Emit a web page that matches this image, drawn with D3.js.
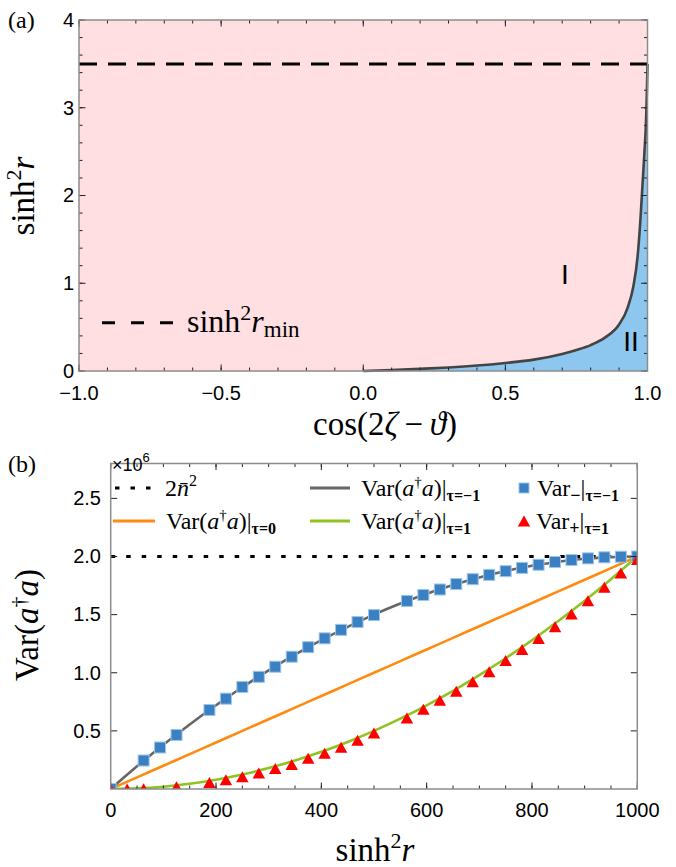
<!DOCTYPE html>
<html>
<head>
<meta charset="utf-8">
<script src="https://cdn.jsdelivr.net/npm/d3@7"></script>
<style>
  body { margin: 0; background: #fff; }
  svg { display: block; }
</style>
</head>
<body>
<div id="chart"></div>
<script>
// ---- panel (a): boundary between region I and II ----
const boundaryC = [0, 0.1, 0.2, 0.3, 0.4, 0.5, 0.6, 0.7, 0.75, 0.8, 0.85, 0.9, 0.93, 0.95, 0.965, 0.975, 0.982, 0.989, 0.995, 0.998, 1.0];
const boundaryV = [0, 0.01, 0.024, 0.04, 0.062, 0.092, 0.13, 0.195, 0.24, 0.295, 0.38, 0.53, 0.72, 0.96, 1.3, 1.72, 2.1, 2.48, 2.86, 3.2, 3.5];
const rMin = 3.5;
const xTicksA = [-1, -0.5, 0, 0.5, 1];
const yTicksA = [0, 1, 2, 3, 4];

// ---- panel (b): variances in units of 10^6 ----
const lineX   = [0, 50, 100, 150, 200, 250, 300, 350, 400, 450, 500, 550, 600, 650, 700, 750, 800, 850, 900, 950, 1000];
const varTauM = [0, 0.195, 0.38, 0.555, 0.72, 0.875, 1.02, 1.155, 1.28, 1.395, 1.5, 1.595, 1.68, 1.755, 1.82, 1.875, 1.92, 1.955, 1.98, 1.995, 2.0];
const varTau0 = [0, 0.1, 0.2, 0.3, 0.4, 0.5, 0.6, 0.7, 0.8, 0.9, 1.0, 1.1, 1.2, 1.3, 1.4, 1.5, 1.6, 1.7, 1.8, 1.9, 2.0];
const varTauP = [0, 0.005, 0.02, 0.045, 0.08, 0.125, 0.18, 0.245, 0.32, 0.405, 0.5, 0.605, 0.72, 0.845, 0.98, 1.125, 1.28, 1.445, 1.62, 1.805, 2.0];

const sqX = [0, 62.5, 93.75, 125, 187.5, 218.75, 250, 281.25, 312.5, 343.75, 375, 406.25, 437.5, 468.75, 500,
             562.5, 593.75, 625, 656.25, 687.5, 718.75, 750, 781.25, 812.5, 843.75, 875, 906.25, 937.5, 968.75, 1000];
const sqY = [0, 0.245, 0.357, 0.465, 0.68, 0.777, 0.878, 0.965, 1.052, 1.138, 1.22, 1.296, 1.369, 1.436, 1.496,
             1.618, 1.669, 1.716, 1.763, 1.805, 1.842, 1.874, 1.902, 1.929, 1.953, 1.97, 1.984, 1.993, 1.998, 2.0];
const triX = [0, 31.25, 62.5, 125, 187.5, 218.75, 250, 281.25, 312.5, 343.75, 375, 406.25, 437.5, 468.75, 500,
              562.5, 593.75, 625, 656.25, 687.5, 718.75, 750, 781.25, 812.5, 843.75, 875, 906.25, 937.5, 968.75, 1000];
const triY = [0, 0, 0.002, 0.02, 0.055, 0.08, 0.105, 0.137, 0.177, 0.21, 0.264, 0.308, 0.36, 0.42, 0.482,
              0.61, 0.686, 0.763, 0.84, 0.923, 1.009, 1.105, 1.2, 1.295, 1.395, 1.505, 1.62, 1.735, 1.857, 1.975];
const nbar2 = 2.0;
const xTicksB = [0, 200, 400, 600, 800, 1000];
const yTicksB = [0.5, 1.0, 1.5, 2.0, 2.5];

const SANS = "Liberation Sans, Arial, sans-serif";
const SERIF = "Liberation Serif, Times New Roman, serif";
const frameCol = "#8c8c8c";
const TICK_FS = 20;

const svg = d3.select("#chart").append("svg").attr("width", 676).attr("height", 867);

// rich text helper: parts with optional size / vertical offset / italic / bold
function rich(g, x, y, size, parts, anchor) {
  const t = g.append("text").attr("x", x).attr("y", y)
    .attr("font-family", SERIF).attr("font-size", size)
    .attr("text-anchor", anchor || "start").attr("fill", "#000");
  let cur = 0;
  parts.forEach(p => {
    const ts = t.append("tspan").text(p.t);
    const off = p.dy || 0;
    if (off - cur) ts.attr("dy", off - cur);
    cur = off;
    if (p.fs) ts.attr("font-size", p.fs);
    if (p.i) ts.attr("font-style", "italic");
    if (p.b) ts.attr("font-weight", "bold");
    if (p.dx) ts.attr("dx", p.dx);
  });
  return t;
}

function frameTicks(g, x, y, xMaj, xMin, yMaj, yMin) {
  const [x0, x1] = x.range(), [y0, y1] = y.range();
  const tk = g.append("g").attr("stroke", "#222").attr("stroke-width", 1);
  xMin.forEach(v => {
    tk.append("line").attr("x1", x(v)).attr("x2", x(v)).attr("y1", y0).attr("y2", y0 - 3.5);
    tk.append("line").attr("x1", x(v)).attr("x2", x(v)).attr("y1", y1).attr("y2", y1 + 3.5);
  });
  xMaj.forEach(v => {
    tk.append("line").attr("x1", x(v)).attr("x2", x(v)).attr("y1", y0).attr("y2", y0 - 6.5);
    tk.append("line").attr("x1", x(v)).attr("x2", x(v)).attr("y1", y1).attr("y2", y1 + 6.5);
  });
  yMin.forEach(v => {
    tk.append("line").attr("y1", y(v)).attr("y2", y(v)).attr("x1", x0).attr("x2", x0 + 3.5);
    tk.append("line").attr("y1", y(v)).attr("y2", y(v)).attr("x1", x1).attr("x2", x1 - 3.5);
  });
  yMaj.forEach(v => {
    tk.append("line").attr("y1", y(v)).attr("y2", y(v)).attr("x1", x0).attr("x2", x0 + 6.5);
    tk.append("line").attr("y1", y(v)).attr("y2", y(v)).attr("x1", x1).attr("x2", x1 - 6.5);
  });
  g.append("rect").attr("x", x0).attr("y", y1).attr("width", x1 - x0).attr("height", y0 - y1)
    .attr("fill", "none").attr("stroke", frameCol).attr("stroke-width", 1.5);
}

// ================= panel (a) =================
const xa = d3.scaleLinear().domain([-1, 1]).range([79, 647.5]);
const ya = d3.scaleLinear().domain([0, 4]).range([371, 20]);
const ga = svg.append("g");
const boundary = boundaryC.map((c, i) => ({c, v: boundaryV[i]}));

ga.append("rect").attr("x", xa(-1)).attr("y", ya(4)).attr("width", xa(1) - xa(-1)).attr("height", ya(0) - ya(4))
  .attr("fill", "#ffdfe2");
ga.append("path").datum(boundary)
  .attr("d", d3.area().x(d => xa(d.c)).y0(ya(0)).y1(d => ya(d.v)).curve(d3.curveMonotoneX))
  .attr("fill", "#8dc7f0");
ga.append("path").datum(boundary)
  .attr("d", d3.line().x(d => xa(d.c)).y(d => ya(d.v)).curve(d3.curveMonotoneX))
  .attr("fill", "none").attr("stroke", "#444").attr("stroke-width", 2.6);
ga.append("line").attr("x1", xa(-1)).attr("x2", xa(1)).attr("y1", ya(rMin)).attr("y2", ya(rMin))
  .attr("stroke", "#000").attr("stroke-width", 3).attr("stroke-dasharray", "18,11");

frameTicks(ga, xa, ya, xTicksA, d3.range(-10, 11).map(d => d / 10), yTicksA, d3.range(0, 21).map(d => d / 5));

ga.selectAll("text.xt").data(xTicksA).join("text").attr("class", "xt")
  .attr("x", d => xa(d)).attr("y", 400).attr("text-anchor", "middle")
  .attr("font-family", SANS).attr("font-size", TICK_FS)
  .text(d => d3.format(".1f")(d).replace("-", "\u2212"));
ga.selectAll("text.yt").data(yTicksA).join("text").attr("class", "yt")
  .attr("x", 74).attr("y", d => ya(d)).attr("dy", "0.34em").attr("text-anchor", "end")
  .attr("font-family", SANS).attr("font-size", TICK_FS).text(d => d);

ga.append("text").attr("x", 565).attr("y", 284).attr("text-anchor", "middle")
  .attr("font-family", SANS).attr("font-size", 28).text("I");
ga.append("text").attr("x", 631).attr("y", 351).attr("text-anchor", "middle")
  .attr("font-family", SANS).attr("font-size", 28).text("II");

// legend for the dashed line
ga.append("line").attr("x1", 102).attr("x2", 175).attr("y1", 322.7).attr("y2", 322.7)
  .attr("stroke", "#000").attr("stroke-width", 3).attr("stroke-dasharray", "13,16");
rich(ga, 187, 332, 32, [{t: "sinh"}, {t: "2", fs: 22, dy: -12}, {t: "r", i: 1, dy: 0}, {t: "min", fs: 23, dy: 5}]);

rich(ga, 385, 435, 33, [{t: "cos(2"}, {t: "ζ", i: 1}, {t: "\u2009\u2212\u2009"}, {t: "ϑ", i: 1}, {t: ")"}], "middle");
rich(ga, 0, 0, 33, [{t: "sinh"}, {t: "2", fs: 22, dy: -13}, {t: "r", i: 1, dy: 0}], "middle")
  .attr("transform", "translate(34,196) rotate(-90)");
rich(ga, 8, 28, 24, [{t: "(a)"}]);

// ================= panel (b) =================
const xb = d3.scaleLinear().domain([0, 1000]).range([110.7, 637.3]);
const yb = d3.scaleLinear().domain([0, 2.8]).range([789, 463.5]);
const gb = svg.append("g");

svg.append("defs").append("clipPath").attr("id", "clipB").append("rect")
  .attr("x", xb(0)).attr("y", yb(2.8)).attr("width", xb(1000) - xb(0)).attr("height", yb(0) - yb(2.8));
const plotB = gb.append("g").attr("clip-path", "url(#clipB)");

plotB.append("line").attr("x1", xb(0)).attr("x2", xb(1000)).attr("y1", yb(nbar2)).attr("y2", yb(nbar2))
  .attr("stroke", "#000").attr("stroke-width", 3).attr("stroke-dasharray", "4.5,11");

const line = d3.line().x(d => xb(d[0])).y(d => yb(d[1])).curve(d3.curveMonotoneX);
const series = [
  {v: varTau0, col: "#ff8a10"},
  {v: varTauP, col: "#8fc31f"},
  {v: varTauM, col: "#666666"}
];
series.forEach(s => {
  plotB.append("path").datum(lineX.map((x, i) => [x, s.v[i]]))
    .attr("d", line).attr("fill", "none").attr("stroke", s.col).attr("stroke-width", 2.6);
});

const sqS = 11;
plotB.selectAll("rect.sq").data(sqX.map((x, i) => [x, sqY[i]])).join("rect").attr("class", "sq")
  .attr("x", d => xb(d[0]) - sqS / 2).attr("y", d => yb(d[1]) - sqS / 2)
  .attr("width", sqS).attr("height", sqS)
  .attr("fill", "#3a80c2").attr("stroke", "#9cc6ea").attr("stroke-width", 1);

const triW = 12.5, triH = 11;
const triPath = `M0,${-triH / 2}L${triW / 2},${triH / 2}L${-triW / 2},${triH / 2}Z`;
plotB.selectAll("path.tri").data(triX.map((x, i) => [x, triY[i]])).join("path").attr("class", "tri")
  .attr("d", triPath).attr("transform", d => `translate(${xb(d[0])},${yb(d[1])})`)
  .attr("fill", "#ff0000");

frameTicks(gb, xb, yb, xTicksB, d3.range(0, 1001, 50), yTicksB, []);

gb.selectAll("text.xt").data(xTicksB).join("text").attr("class", "xt")
  .attr("x", d => xb(d)).attr("y", 817).attr("text-anchor", "middle")
  .attr("font-family", SANS).attr("font-size", TICK_FS).text(d => d);
gb.selectAll("text.yt").data(yTicksB).join("text").attr("class", "yt")
  .attr("x", 101).attr("y", d => yb(d)).attr("dy", "0.34em").attr("text-anchor", "end")
  .attr("font-family", SANS).attr("font-size", TICK_FS).text(d => d3.format(".1f")(d));

const sc = gb.append("text").attr("x", 112).attr("y", 471)
  .attr("font-family", SANS).attr("font-size", 18);
sc.append("tspan").text("×10");
sc.append("tspan").attr("font-size", 13).attr("dy", -9).text("6");

rich(gb, 8, 472, 24, [{t: "(b)"}]);
rich(gb, 375, 861, 33, [{t: "sinh"}, {t: "2", fs: 22, dy: -13}, {t: "r", i: 1, dy: 0}], "middle");
rich(gb, 0, 0, 33, [{t: "Var("}, {t: "a", i: 1}, {t: "†", fs: 22, dy: -12}, {t: "a", i: 1, dy: 0}, {t: ")"}], "middle")
  .attr("transform", "translate(38,625) rotate(-90)");

// legend
const lg = gb.append("g");
const r1 = 488, r2 = 521, fsL = 24, fsS = 16;
lg.append("line").attr("x1", 115).attr("x2", 152).attr("y1", r1).attr("y2", r1)
  .attr("stroke", "#000").attr("stroke-width", 3).attr("stroke-dasharray", "4.5,11");
rich(lg, 165, r1 + 8, fsL, [{t: "2"}, {t: "n\u0304", i: 1}, {t: "2", fs: 16, dy: -10}]);

lg.append("line").attr("x1", 310).attr("x2", 350).attr("y1", r1).attr("y2", r1)
  .attr("stroke", "#666").attr("stroke-width", 3);
rich(lg, 361, r1 + 8, fsL, [{t: "Var("}, {t: "a", i: 1}, {t: "†", fs: 15, dy: -9}, {t: "a", i: 1, dy: 0},
  {t: ")|"}, {t: "τ=\u22121", fs: fsS, b: 1, dy: 5}]);

lg.append("rect").attr("x", 524 - 5).attr("y", r1 - 5).attr("width", 10).attr("height", 10)
  .attr("fill", "#3a80c2").attr("stroke", "#9cc6ea").attr("stroke-width", 1);
rich(lg, 537, r1 + 8, fsL, [{t: "Var"}, {t: "\u2212", fs: 18, b: 1, dy: 5}, {t: "|", dy: 0}, {t: "τ=\u22121", fs: fsS, b: 1, dy: 5}]);

lg.append("line").attr("x1", 113).attr("x2", 155).attr("y1", r2).attr("y2", r2)
  .attr("stroke", "#ff8a10").attr("stroke-width", 3);
rich(lg, 166, r2 + 8, fsL, [{t: "Var("}, {t: "a", i: 1}, {t: "†", fs: 15, dy: -9}, {t: "a", i: 1, dy: 0},
  {t: ")|"}, {t: "τ=0", fs: fsS, b: 1, dy: 5}]);

lg.append("line").attr("x1", 310).attr("x2", 350).attr("y1", r2).attr("y2", r2)
  .attr("stroke", "#8fc31f").attr("stroke-width", 3);
rich(lg, 361, r2 + 8, fsL, [{t: "Var("}, {t: "a", i: 1}, {t: "†", fs: 15, dy: -9}, {t: "a", i: 1, dy: 0},
  {t: ")|"}, {t: "τ=1", fs: fsS, b: 1, dy: 5}]);

lg.append("path").attr("d", triPath).attr("transform", `translate(524,${r2})`).attr("fill", "#ff0000");
rich(lg, 536, r2 + 8, fsL, [{t: "Var"}, {t: "+", fs: 18, b: 1, dy: 5}, {t: "|", dy: 0}, {t: "τ=1", fs: fsS, b: 1, dy: 5}]);
</script>
</body>
</html>
